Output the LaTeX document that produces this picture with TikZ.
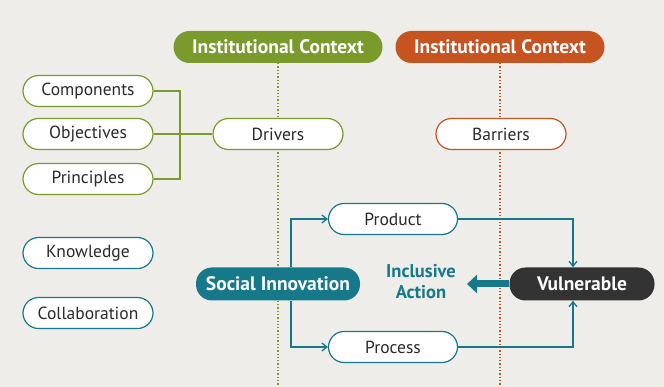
\documentclass[tikz,border=0pt]{standalone}
\usepackage{fontspec}
\setmainfont{PT Sans}
\usetikzlibrary{arrows.meta}
\definecolor{bg}{HTML}{EEEDE9}
\definecolor{olive}{HTML}{7A9B2C}
\definecolor{rust}{HTML}{C65421}
\definecolor{teal}{HTML}{16798A}
\definecolor{coal}{HTML}{333333}
\definecolor{ink}{HTML}{2A2A2A}
\tikzset{
  pill/.style={draw, line width=1.2pt, fill=white, rounded corners=15.5pt,
    minimum width=130pt, minimum height=31pt, inner sep=0pt,
    font=\fontsize{17.5}{20}\selectfont, text=ink},
  greenpill/.style={pill, draw=olive},
  tealpill/.style={pill, draw=teal},
  rustpill/.style={pill, draw=rust},
  header/.style={rounded corners=16pt, minimum width=209pt, minimum height=32pt,
    inner sep=0pt, text=white, font=\bfseries\fontsize{19.5}{22}\selectfont},
  solid pill/.style={rounded corners=16pt, minimum height=33pt, inner sep=0pt,
    text=white, font=\bfseries\fontsize{19.5}{22}\selectfont},
  guide/.style={dotted, line width=1.3pt},
  link/.style={draw=teal, line width=1.3pt},
  linkarrow/.style={link, -{Straight Barb[length=5pt,width=8pt]}},
}
\begin{document}
\begin{tikzpicture}[x=1pt,y=-1pt]
  \fill[bg] (0,0) rectangle (664,387);
  \useasboundingbox (0,0) rectangle (664,387);

  % headers
  \node[header, fill=olive] (ctxA) at (278,47) {Institutional Context};
  \node[header, fill=rust]  (ctxB) at (500,47) {Institutional Context};
  \coordinate (endA) at (278,387);
  \coordinate (endB) at (500,387);
  \draw[guide, draw=olive] (ctxA.south) -- (endA);
  \draw[guide, draw=rust]  (ctxB.south) -- (endB);

  % drivers group
  \node[greenpill] (comp) at (88,91)  {Components};
  \node[greenpill] (obj)  at (88,134) {Objectives};
  \node[greenpill] (prin) at (88,179) {Principles};
  \node[greenpill] (drv)  at (278,134) {Drivers};
  \node[rustpill]  (bar)  at (501,134) {Barriers};
  \coordinate (brk) at (180,134);
  \draw[olive, line width=1.2pt] (comp.east) -| (brk |- comp) -- (brk |- prin) -- (prin.east);
  \draw[olive, line width=1.2pt] (obj.east) -- (drv.west);

  % resources
  \node[tealpill] (know) at (88,253) {Knowledge};
  \node[tealpill] (coll) at (88,313) {Collaboration};

  % innovation flow
  \node[tealpill, minimum width=129pt] (prod) at (393,219) {Product};
  \node[tealpill, minimum width=129pt] (proc) at (393,347) {Process};
  \node[solid pill, fill=teal, minimum width=164pt] (si) at (278,284) {Social Innovation};
  \node[solid pill, fill=coal, minimum width=145pt] (vul) at (582,284) {Vulnerable};
  \node[text=teal, font=\bfseries\fontsize{18.5}{21}\selectfont, align=center] (inc) at (421,282) {Inclusive\\Action};

  \coordinate (split) at (291,284);
  \coordinate (join) at (573,284);
  \draw[linkarrow] (split |- si.north) |- (prod.west);
  \draw[linkarrow] (split |- si.south) |- (proc.west);
  \draw[linkarrow] (prod.east) -| (join |- vul.north);
  \draw[linkarrow] (proc.east) -| (join |- vul.south);
  \coordinate (tip) at (467,284);
  \draw[teal, line width=7pt, -{Triangle[length=10pt,width=18pt]}] (vul.west) -- (tip);
\end{tikzpicture}
\end{document}
